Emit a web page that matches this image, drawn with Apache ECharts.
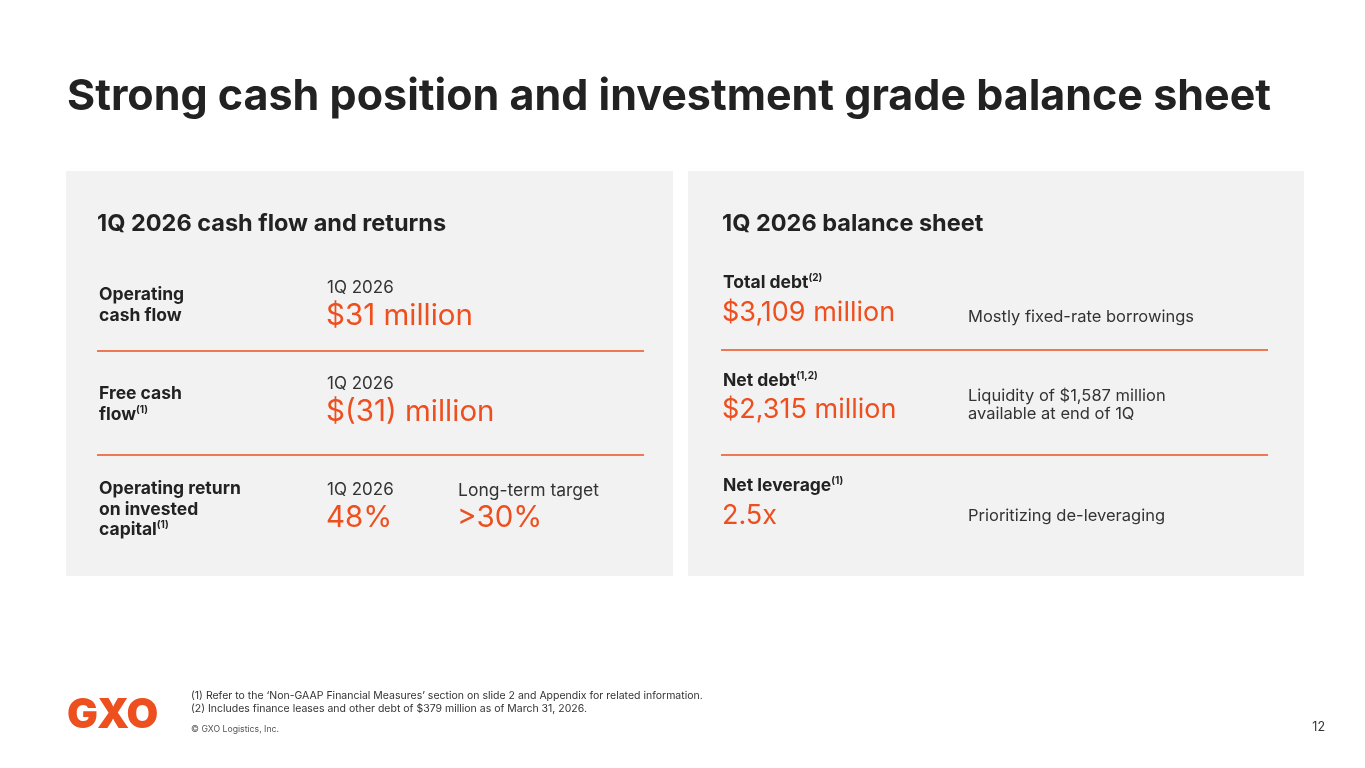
<!DOCTYPE html>
<html><head><meta charset="utf-8">
<script src="https://cdn.jsdelivr.net/npm/echarts@6/dist/echarts.min.js"></script>
<style>html,body{margin:0;padding:0;background:#fff}#c{width:1365px;height:768px}</style>
</head><body><div id="c"></div>
<script>
const titleText = 'Strong cash position and investment grade balance sheet';
const panelTitles = ['1Q 2026 cash flow and returns', '1Q 2026 balance sheet'];
// left panel
const leftLabels = [['Operating', 'cash flow'], ['Free cash', 'flow'], ['Operating return', 'on invested', 'capital']];
const leftLabelNotes = ['', '(1)', '(1)'];
const leftPeriods = ['1Q 2026', '1Q 2026', '1Q 2026'];
const leftValues = ['$31 million', '$(31) million', '48%'];
const targetLabel = 'Long-term target';
const targetValue = '>30%';
// right panel
const rightLabels = ['Total debt', 'Net debt', 'Net leverage'];
const rightLabelNotes = ['(2)', '(1,2)', '(1)'];
const rightValues = ['$3,109 million', '$2,315 million', '2.5x'];
const rightNotes = [['Mostly fixed-rate borrowings'], ['Liquidity of $1,587 million', 'available at end of 1Q'], ['Prioritizing de-leveraging']];
const footnotes = ["(1) Refer to the \u2018Non-GAAP Financial Measures\u2019 section on slide 2 and Appendix for related information.",
  '(2) Includes finance leases and other debt of $379 million as of March 31, 2026.'];
const copyright = '\u00a9 GXO Logistics, Inc.';
const pageNumber = '12';
const logoText = 'GXO';

const FONT = 'Inter, "Noto Sans", sans-serif';
const ORANGE = '#ee4f1f';
const DARK = '#222222';
const TEXT = '#333333';
const PANEL = '#f2f2f2';

const g = [];
function txt(x, y, text, size, weight, color, extra) {
  g.push({type: 'text', x: x, y: y, style: Object.assign({text: text, fontSize: size, fontWeight: weight, fill: color, fontFamily: FONT, textVerticalAlign: 'middle'}, extra || {})});
}
// title
txt(67, 97, titleText, 43, 'bold', DARK);
// panels
g.push({type: 'rect', shape: {x: 66, y: 171, width: 607, height: 405}, style: {fill: PANEL}});
g.push({type: 'rect', shape: {x: 688, y: 171, width: 616, height: 405}, style: {fill: PANEL}});
txt(97, 224, panelTitles[0], 23.5, 'bold', DARK);
txt(722, 224, panelTitles[1], 23.5, 'bold', DARK);

const labelRich = {b: {fontSize: 17.5, fontWeight: 'bold', fill: DARK, fontFamily: FONT, lineHeight: 20},
  s: {fontSize: 10, fontWeight: 'bold', fill: DARK, fontFamily: FONT, verticalAlign: 'top', lineHeight: 20, padding: [0, 0, 8, 0]}};

// left rows
const leftRowTop = [295, 394, 489];
const leftValY = [316, 412, 518];
leftLabels.forEach(function (lines, i) {
  lines.forEach(function (ln, j) {
    const last = j === lines.length - 1;
    const note = last ? leftLabelNotes[i] : '';
    g.push({type: 'text', x: 99, y: leftRowTop[i] + j * 20.5, style: {
      text: '{b|' + ln + '}' + (note ? '{s|' + note + '}' : ''), fontFamily: FONT, textVerticalAlign: 'middle', rich: labelRich}});
  });
  txt(327, leftValY[i] - 28, leftPeriods[i], 17, 'normal', TEXT);
  txt(326, leftValY[i], leftValues[i], 29.5, 'normal', ORANGE);
});
txt(458, 491, targetLabel, 17.5, 'normal', TEXT);
txt(457, 518, targetValue, 29.5, 'normal', ORANGE);
[351, 455].forEach(function (y) {
  g.push({type: 'line', shape: {x1: 97, y1: y, x2: 644, y2: y}, style: {stroke: ORANGE, lineWidth: 1.3}});
});

// right rows
const rightLabY = [283, 381, 486];
const rightValY = [313, 410, 516];
const rightNoteY = [[317], [396, 414], [516]];
rightLabels.forEach(function (lab, i) {
  g.push({type: 'text', x: 723, y: rightLabY[i], style: {
    text: '{b|' + lab + '}{s|' + rightLabelNotes[i] + '}', fontFamily: FONT, textVerticalAlign: 'middle', rich: labelRich}});
  txt(722, rightValY[i], rightValues[i], 27, 'normal', ORANGE);
  rightNotes[i].forEach(function (ln, j) {
    txt(968, rightNoteY[i][j], ln, 16.5, 'normal', TEXT);
  });
});
[350, 455].forEach(function (y) {
  g.push({type: 'line', shape: {x1: 721, y1: y, x2: 1268, y2: y}, style: {stroke: ORANGE, lineWidth: 1.3}});
});

// footer
txt(67, 716, logoText, 41, 900, ORANGE);
footnotes.forEach(function (f, i) { txt(191, 696 + i * 13, f, 10.5, 'normal', TEXT); });
txt(191, 729, copyright, 8.7, 'normal', '#555');
txt(1325, 727, pageNumber, 12.5, 'normal', TEXT, {textAlign: 'right'});

const chart = echarts.init(document.getElementById('c'));
chart.setOption({backgroundColor: '#ffffff', animation: false, graphic: g});
</script></body></html>
